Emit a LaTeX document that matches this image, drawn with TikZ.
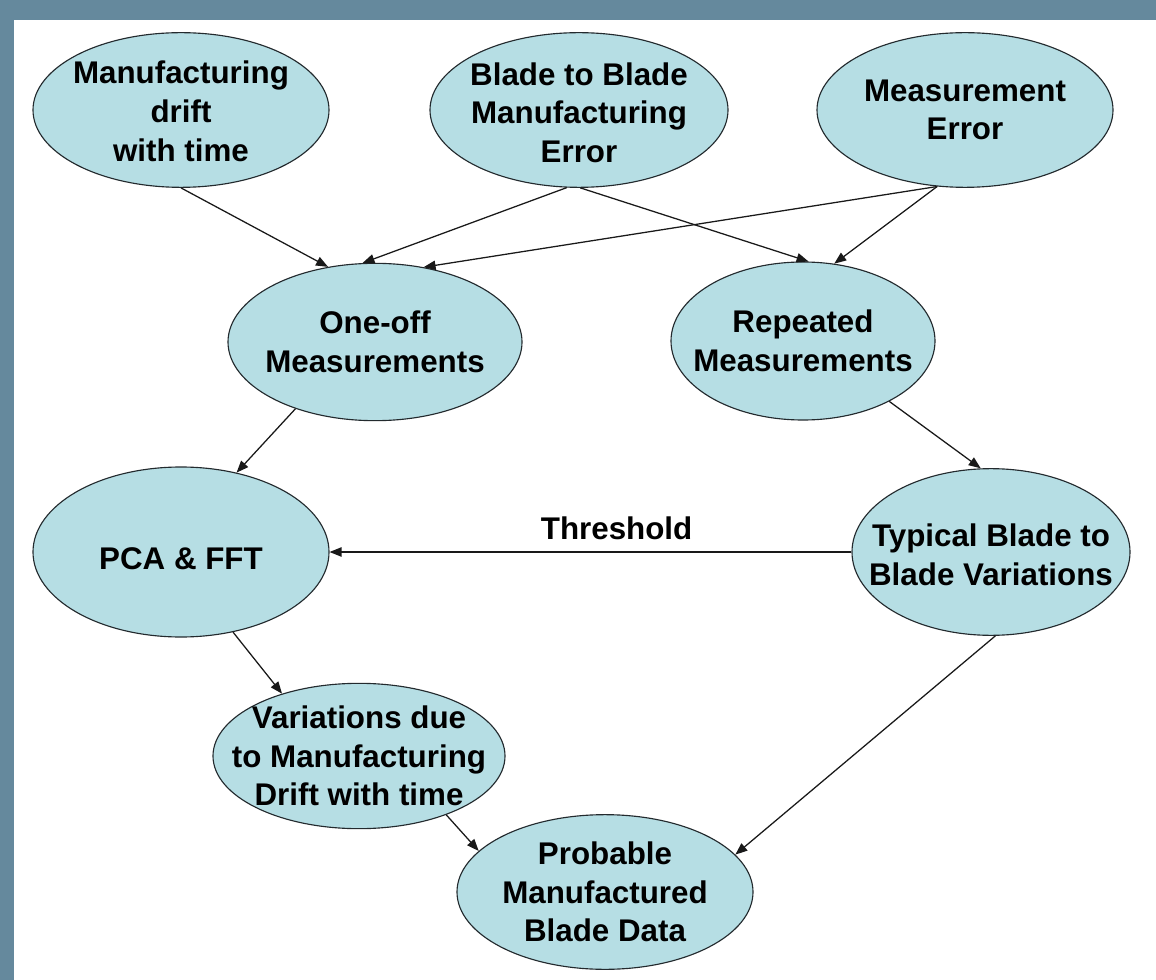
\documentclass[tikz,border=0pt]{standalone}
\usepackage{fontspec}
\setmainfont{Liberation Sans}
\usetikzlibrary{shapes.geometric,arrows.meta}
\definecolor{frame}{RGB}{101,137,157}
\definecolor{blobfill}{RGB}{182,222,228}
\definecolor{blobline}{RGB}{35,42,46}
\tikzset{
  blob/.style={ellipse, draw=blobline, line width=0.85pt, fill=blobfill, inner sep=0pt},
  txt/.style={align=center, inner sep=0pt, font=\fontsize{23.5}{29}\selectfont\bfseries},
  conn/.style={draw=black!90, line width=0.95pt, -{Triangle[length=9pt,width=7pt]}}
}
\begin{document}
\begin{tikzpicture}[x=0.75pt,y=-0.75pt]
\fill[frame] (0,0) rectangle (1156,980);
\fill[white] (14,20) rectangle (1156,980);
\useasboundingbox (0,0) rectangle (1156,980);

\node[blob, minimum width=222pt, minimum height=116pt] (drift) at (181,110) {};
\node[txt] (drift-t) at ([yshift=-1pt]drift) {Manufacturing\\drift\\with time};
\node[blob, minimum width=223.5pt, minimum height=116pt] (blade) at (579,110) {};
\node[txt] (blade-t) at ([yshift=-2pt]blade) {Blade to Blade\\Manufacturing\\Error};
\node[blob, minimum width=222pt, minimum height=116pt] (meas) at (965,110) {};
\node[txt] (meas-t) at (meas) {Measurement\\Error};

\node[blob, minimum width=220.5pt, minimum height=118pt] (oneoff) at (375,342) {};
\node[txt] (oneoff-t) at (oneoff) {One-off\\Measurements};
\node[blob, minimum width=198pt, minimum height=118.5pt] (rep) at (803,341) {};
\node[txt] (rep-t) at (rep) {Repeated\\Measurements};

\node[blob, minimum width=222pt, minimum height=127.5pt] (pca) at (181,552) {};
\node[txt] (pca-t) at ([yshift=-5pt]pca) {PCA \& FFT};
\node[blob, minimum width=208.5pt, minimum height=125pt] (typ) at (991,552) {};
\node[txt] (typ-t) at ([yshift=-2pt]typ) {Typical Blade to\\Blade Variations};

\node[blob, minimum width=219pt, minimum height=109pt] (var) at (359,756) {};
\node[txt] (var-t) at (var) {Variations due\\to Manufacturing\\Drift with time};
\node[blob, minimum width=222pt, minimum height=116pt] (prob) at (605,892) {};
\node[txt] (prob-t) at (prob) {Probable\\Manufactured\\Blade Data};

\draw[conn] (drift.270) -- (oneoff.122);
\draw[conn] (blade.261) -- (oneoff.99);
\draw[conn] (blade.271) -- (rep.86);
\draw[conn] (meas.250) -- (oneoff.57);
\draw[conn] (meas.250) -- (rep.68);
\draw[conn] (oneoff.220) -- (pca.55);
\draw[conn] (rep.325) -- (typ.97);
\draw[conn] (typ.west) -- node[pos=0.45, above, inner sep=0pt, yshift=9pt, font=\fontsize{23.5}{29}\selectfont\bfseries] (thr) {Threshold} (pca.east);
\draw[conn] (pca.303) -- (var.141);
\draw[conn] (var.326) -- (prob.162);
\draw[conn] (typ.273) -- (prob.16);
\end{tikzpicture}
\end{document}
